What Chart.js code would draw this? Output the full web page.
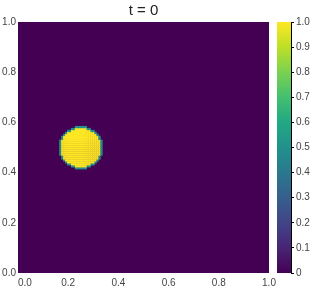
<!DOCTYPE html>
<html>
<head>
<meta charset="utf-8">
<script src="https://cdn.jsdelivr.net/npm/chart.js@4"></script>
<style>
  html, body { margin: 0; padding: 0; background: #fff; }
  #wrap { position: relative; width: 314px; height: 291px; }
  #main { position: absolute; left: 0; top: 0; }
  #cbwrap { position: absolute; left: 270px; top: 0; width: 44px; height: 291px; }
</style>
</head>
<body>
<div id="wrap">
  <canvas id="main" width="314" height="291"></canvas>
  <div id="cbwrap"><canvas id="cb" width="44" height="291"></canvas></div>
</div>
<script>
// ---- data ----
const titleText = 't = 0';
const axisTicks = [0, 0.2, 0.4, 0.6, 0.8, 1.0];
const colorbarTicks = [0, 0.1, 0.2, 0.3, 0.4, 0.5, 0.6, 0.7, 0.8, 0.9, 1.0];
const gridCells = 128;                 // field resolution (cells per side)
const backgroundValue = 0;             // field value outside the drop
const dropValue = 1;                   // field value inside the drop
const edgeValue = 0.5;                 // smeared interface cells
const dropCenter = [0.25, 0.5];        // x, y of drop centre
// number of full cells on each side of the centre line, per row, from centre outward
const dropRowHalfWidths = [10, 10, 10, 10, 9, 9, 8, 7, 5, 3];

// ---- viridis colormap (style) ----
const viridis = ['#440154','#482475','#414487','#355f8d','#2a788e','#21918c','#22a884','#44bf70','#7ad151','#bddf26','#fde725'];
function hex2rgb(h){return [parseInt(h.substr(1,2),16),parseInt(h.substr(3,2),16),parseInt(h.substr(5,2),16)];}
function cmap(v){
  v = Math.max(0, Math.min(1, v));
  const p = v*(viridis.length-1), i = Math.min(viridis.length-2, Math.floor(p)), f = p-i;
  const a = hex2rgb(viridis[i]), b = hex2rgb(viridis[i+1]);
  return 'rgb('+a.map((c,k)=>Math.round(c+(b[k]-c)*f)).join(',')+')';
}

// build field from the row spans
const field = [];
for (let j=0;j<gridCells;j++){ field.push(new Array(gridCells).fill(backgroundValue)); }
const cc = Math.round(dropCenter[0]*gridCells), cr = Math.round(dropCenter[1]*gridCells);
dropRowHalfWidths.forEach((hw,k)=>{
  [cr+k, cr-1-k].forEach(row=>{
    for (let c=cc-hw;c<cc+hw;c++) field[row][c]=dropValue;
  });
});
// interface cells: background cells touching the drop
const edges=[];
for (let j=1;j<gridCells-1;j++) for (let i=1;i<gridCells-1;i++){
  if (field[j][i]!==backgroundValue) continue;
  if (field[j+1][i]===dropValue||field[j-1][i]===dropValue||field[j][i+1]===dropValue||field[j][i-1]===dropValue) edges.push([i,j]);
}
edges.forEach(([i,j])=>{ field[j][i]=edgeValue; });

const heatPlugin = {
  id:'heat',
  beforeDatasetsDraw(chart){
    const {ctx, scales:{x,y}} = chart;
    ctx.save();
    const step = 1/gridCells;
    ctx.fillStyle = cmap(backgroundValue);
    ctx.fillRect(x.getPixelForValue(0), y.getPixelForValue(1), x.getPixelForValue(1)-x.getPixelForValue(0), y.getPixelForValue(0)-y.getPixelForValue(1));
    for (let j=0;j<gridCells;j++) for (let i=0;i<gridCells;i++){
      const v = field[j][i];
      if (v===backgroundValue) continue;
      const x0 = x.getPixelForValue(i*step), x1 = x.getPixelForValue((i+1)*step);
      const y0 = y.getPixelForValue((j+1)*step), y1 = y.getPixelForValue(j*step);
      ctx.fillStyle = cmap(v);
      ctx.fillRect(x0, y0, x1-x0+0.3, y1-y0+0.3);
    }
    ctx.restore();
  }
};

const tickFont = {family:'"Liberation Sans", Arial, sans-serif', size:10};
const tickColor = '#444';

new Chart(document.getElementById('main'), {
  type:'scatter',
  data:{datasets:[{data:[]}]},
  options:{
    responsive:false, animation:false,
    layout:{padding:{left:0,right:45,top:0,bottom:0}},
    plugins:{
      legend:{display:false}, tooltip:{enabled:false},
      title:{display:true, text:titleText, fullSize:false, color:'#222',
             font:{family:'"Liberation Sans", Arial, sans-serif', size:15, weight:'normal'},
             padding:{top:2,bottom:2}}
    },
    scales:{
      x:{type:'linear', min:0, max:1,
         afterBuildTicks(s){ s.ticks = axisTicks.map(v=>({value:v})); },
         ticks:{font:tickFont, color:tickColor, padding:4, maxRotation:0,
                callback:v=>(v===0?'     ':'')+Number(v).toFixed(1)},
         grid:{display:false, drawTicks:false, tickLength:0}, border:{display:false},
         afterFit(s){ s.height = 18; }},
      y:{type:'linear', min:0, max:1,
         afterBuildTicks(s){ s.ticks = axisTicks.map(v=>({value:v})); },
         ticks:{font:tickFont, color:tickColor, padding:2,
                callback:v=>Number(v).toFixed(1)},
         grid:{display:false, drawTicks:false, tickLength:0}, border:{display:false},
         afterFit(s){ s.width = 18; }}
    }
  },
  plugins:[heatPlugin]
});

const cbPlugin = {
  id:'cbar',
  beforeDatasetsDraw(chart){
    const {ctx, chartArea:a, scales:{y}} = chart;
    const g = ctx.createLinearGradient(0, y.getPixelForValue(0), 0, y.getPixelForValue(1));
    viridis.forEach((c,i)=>g.addColorStop(i/(viridis.length-1), c));
    ctx.save(); ctx.fillStyle = g;
    ctx.fillRect(a.left, y.getPixelForValue(1), a.right-a.left, y.getPixelForValue(0)-y.getPixelForValue(1));
    ctx.restore();
  }
};

new Chart(document.getElementById('cb'), {
  type:'scatter',
  data:{datasets:[{data:[]}]},
  options:{
    responsive:false, animation:false,
    layout:{padding:{left:7,right:0,top:22,bottom:18}},
    plugins:{legend:{display:false}, tooltip:{enabled:false}},
    scales:{
      x:{type:'linear', min:0, max:1, display:false},
      y:{type:'linear', position:'right', min:0, max:1,
         afterBuildTicks(s){ s.ticks = colorbarTicks.map(v=>({value:v})); },
         ticks:{font:tickFont, color:tickColor, padding:2,
                callback:v=>v===0?'0':Number(v).toFixed(1)},
         grid:{drawOnChartArea:false, drawTicks:true, tickLength:3, color:'#000'},
         border:{display:true, color:'#000', width:1},
         afterFit(s){ s.width = 23; }}
    }
  },
  plugins:[cbPlugin]
});
</script>
</body>
</html>
